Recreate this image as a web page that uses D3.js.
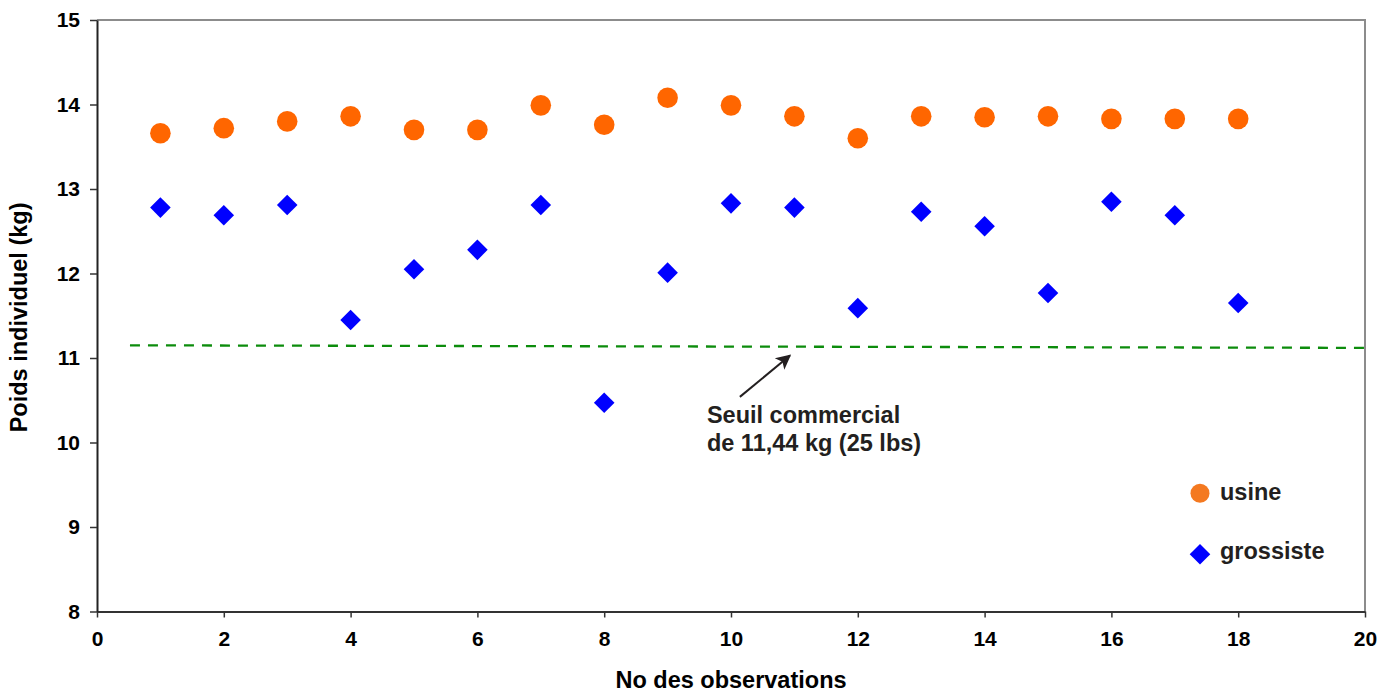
<!DOCTYPE html>
<html>
<head>
<meta charset="utf-8">
<script src="https://cdn.jsdelivr.net/npm/d3@7"></script>
<style>
  body { margin: 0; background: #fff; }
  svg text { font-family: Arial, "Liberation Sans", sans-serif; font-weight: bold; }
</style>
</head>
<body>
<svg id="chart" width="1390" height="692"></svg>
<script>
// observation numbers
var observations = [1,2,3,4,5,6,7,8,9,10,11,12,13,14,15,16,17,18];
// poids individuel (kg)
var usine = [13.66,13.72,13.80,13.86,13.70,13.70,13.99,13.76,14.08,13.99,13.86,13.60,13.86,13.85,13.86,13.83,13.83,13.83];
var grossiste = [12.78,12.69,12.81,11.45,12.05,12.28,12.81,10.47,12.01,12.83,12.78,11.59,12.73,12.56,11.77,12.85,12.69,11.65];
// seuil commercial line (x, y)
var seuil = [[0.52, 11.15], [20, 11.12]];
var xTicks = [0,2,4,6,8,10,12,14,16,18,20];
var yTicks = [8,9,10,11,12,13,14,15];

var svg = d3.select("#chart");

//plot area
var margin = {left: 97, top: 20, right: 25, bottom: 80.5};
var width = 1390 - margin.left - margin.right;
var height = 692 - margin.top - margin.bottom;

var x = d3.scaleLinear().domain([0, 20]).range([0, width]);
var y = d3.scaleLinear().domain([8, 15]).range([height, 0]);

var g = svg.append("g").attr("transform", "translate(" + margin.left + "," + margin.top + ")");

//gray frame on top and right
g.append("path")
  .attr("d", "M0,0H" + width + "V" + height)
  .attr("fill", "none")
  .style("stroke", "#8c8c8c")
  .style("stroke-width", 2);

//x axis
var xAxis = g.append("g")
  .attr("transform", "translate(0," + height + ")")
  .call(d3.axisBottom(x).tickValues(xTicks).tickFormat(d3.format("d")).tickSize(6).tickPadding(14).tickSizeOuter(0));
xAxis.select(".domain").style("stroke", "#333").style("stroke-width", 2);
xAxis.selectAll(".tick line").style("stroke", "#333").style("stroke-width", 1.5);
xAxis.selectAll("text").attr("font-size", 21).attr("fill", "#000");

//y axis
var yAxis = g.append("g")
  .call(d3.axisLeft(y).tickValues(yTicks).tickFormat(d3.format("d")).tickSize(7).tickPadding(10).tickSizeOuter(0));
yAxis.select(".domain").style("stroke", "#222").style("stroke-width", 2);
yAxis.selectAll(".tick line").style("stroke", "#333").style("stroke-width", 1.5);
yAxis.selectAll("text").attr("font-size", 21).attr("fill", "#000");

//axis titles
svg.append("text")
  .attr("x", margin.left + x(10))
  .attr("y", 688)
  .attr("text-anchor", "middle")
  .attr("font-size", 23.5)
  .attr("fill", "#000")
  .text("No des observations");

svg.append("text")
  .attr("transform", "translate(27," + (margin.top + y(11.48)) + ") rotate(-90)")
  .attr("text-anchor", "middle")
  .attr("font-size", 23.5)
  .attr("fill", "#000")
  .text("Poids individuel (kg)");

//threshold line
g.append("path")
  .datum(seuil)
  .attr("d", d3.line().x(function(d){ return x(d[0]); }).y(function(d){ return y(d[1]); }))
  .attr("fill", "none")
  .style("stroke", "#0c8c0c")
  .style("stroke-width", 2.3)
  .style("stroke-dasharray", "10,8");

//usine points
g.selectAll(".usine")
  .data(usine)
  .enter().append("circle")
  .attr("class", "usine")
  .attr("cx", function(d, i){ return x(observations[i]); })
  .attr("cy", function(d){ return y(d); })
  .attr("r", 10.3)
  .attr("fill", "#ff6600");

//grossiste points
var diamond = d3.symbol().type(d3.symbolSquare).size(212);
g.selectAll(".grossiste")
  .data(grossiste)
  .enter().append("path")
  .attr("class", "grossiste")
  .attr("d", diamond)
  .attr("transform", function(d, i){ return "translate(" + x(observations[i]) + "," + y(d) + ") rotate(45)"; })
  .attr("fill", "#0000ff");

//annotation arrow
svg.append("defs").append("marker")
  .attr("id", "head")
  .attr("viewBox", "0 0 10 10")
  .attr("refX", 9).attr("refY", 5)
  .attr("markerWidth", 8.5).attr("markerHeight", 7.5)
  .attr("markerUnits", "strokeWidth")
  .attr("orient", "auto")
  .append("path").attr("d", "M0,0L10,5L0,10L2.5,5z").attr("fill", "#231f20");

g.append("line")
  .attr("x1", x(10.14)).attr("y1", y(10.54))
  .attr("x2", x(10.93)).attr("y2", y(11.03))
  .style("stroke", "#231f20")
  .style("stroke-width", 2)
  .attr("marker-end", "url(#head)");

var note = g.append("text")
  .attr("x", x(9.62))
  .attr("y", y(10.225))
  .attr("font-size", 23.5)
  .attr("fill", "#231f20");
note.append("tspan").text("Seuil commercial");
note.append("tspan").attr("x", x(9.62)).attr("dy", 28).text("de 11,44 kg (25 lbs)");

//legend
var legend = svg.append("g").attr("transform", "translate(1200,0)");
legend.append("circle").attr("cx", 0).attr("cy", 493.3).attr("r", 9.5).attr("fill", "#f47920");
legend.append("text").attr("x", 20).attr("y", 500).attr("font-size", 23.5).attr("fill", "#231f20").text("usine");
legend.append("path")
  .attr("d", diamond)
  .attr("transform", "translate(0,554.3) rotate(45)")
  .attr("fill", "#0000ff");
legend.append("text").attr("x", 20).attr("y", 559).attr("font-size", 23.5).attr("fill", "#231f20").text("grossiste");
</script>
</body>
</html>
